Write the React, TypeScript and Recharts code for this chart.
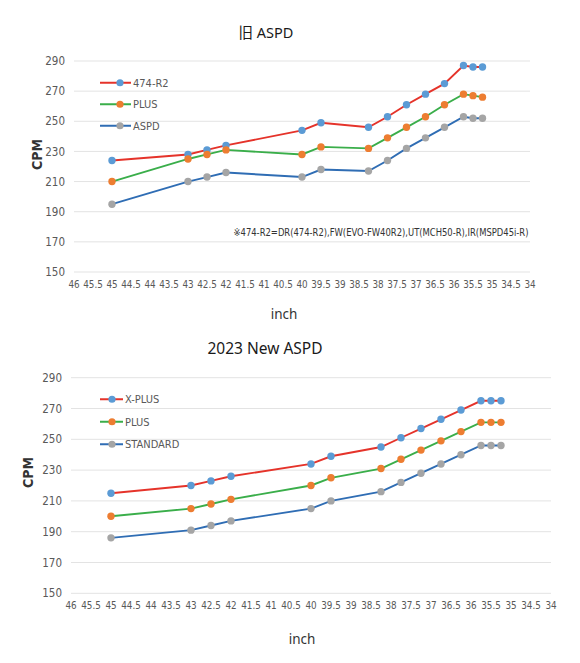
import { LineChart, Line, XAxis, YAxis, CartesianGrid, Legend } from 'recharts';

const inches = [45, 43, 42.5, 42, 40, 39.5, 38.25, 37.75, 37.25, 36.75, 36.25, 35.75, 35.5, 35.25];

// 旧 ASPD
const oldR2 = [224, 228, 231, 234, 244, 249, 246, 253, 261, 268, 275, 287, 286, 286];
const oldPlus = [210, 225, 228, 231, 228, 233, 232, 239, 246, 253, 261, 268, 267, 266];
const oldAspd = [195, 210, 213, 216, 213, 218, 217, 224, 232, 239, 246, 253, 252, 252];

// 2023 New ASPD
const newXPlus = [215, 220, 223, 226, 234, 239, 245, 251, 257, 263, 269, 275, 275, 275];
const newPlus = [200, 205, 208, 211, 220, 225, 231, 237, 243, 249, 255, 261, 261, 261];
const newStandard = [186, 191, 194, 197, 205, 210, 216, 222, 228, 234, 240, 246, 246, 246];

const xTicks = [46, 45.5, 45, 44.5, 44, 43.5, 43, 42.5, 42, 41.5, 41, 40.5, 40, 39.5, 39, 38.5, 38, 37.5, 37, 36.5, 36, 35.5, 35, 34.5, 34];
const yTicks = [150, 170, 190, 210, 230, 250, 270, 290];

const NARROW = "'Liberation Sans Narrow', 'DejaVu Sans Condensed', sans-serif";
const SANS = "'Noto Sans', 'Noto Sans CJK JP', sans-serif";
const TICK = '#595959';

const RED = '#e5332a';
const GREEN = '#3aae4a';
const BLUE = '#2f6db4';
const M_BLUE = '#5b9bd5';
const M_ORANGE = '#ed7d31';
const M_GRAY = '#a5a5a5';

type Series = { key: string; name: string; values: number[]; line: string; marker: string };

const oldSeries: Series[] = [
    { key: 'r2', name: '474-R2', values: oldR2, line: RED, marker: M_BLUE },
    { key: 'plus', name: 'PLUS', values: oldPlus, line: GREEN, marker: M_ORANGE },
    { key: 'aspd', name: 'ASPD', values: oldAspd, line: BLUE, marker: M_GRAY },
];

const newSeries: Series[] = [
    { key: 'xplus', name: 'X-PLUS', values: newXPlus, line: RED, marker: M_BLUE },
    { key: 'plus', name: 'PLUS', values: newPlus, line: GREEN, marker: M_ORANGE },
    { key: 'std', name: 'STANDARD', values: newStandard, line: BLUE, marker: M_GRAY },
];

function buildRows(series: Series[]) {
    return inches.map((x, i) => {
        const row: Record<string, number> = { x };
        series.forEach(s => { row[s.key] = s.values[i]; });
        return row;
    });
}

interface PanelProps {
    top: number;
    height: number;
    title: string;
    titleY: number;
    titleX: number;
    titleSize: number;
    series: Series[];
    yAxisWidth: number;
    marginTop: number;
    marginRight: number;
    xAxisHeight: number;
    inchOffset: number;
    inchDx: number;
    cpmDx: number;
    cpmDy: number;
    legend: { left: number; top: number; lineLen: number; markerX: number; textX: number; gap: number };
    note?: string;
}

function SeriesLegend({ series, lineLen, markerX, textX, gap }: { series: Series[]; lineLen: number; markerX: number; textX: number; gap: number }) {
    return (
        <svg width={120} height={gap * series.length} style={{ display: 'block' }}>
            {series.map((s, i) => {
                const y = gap / 2 + i * gap;
                return (
                    <g key={s.key}>
                        <line x1={0} x2={lineLen} y1={y} y2={y} stroke={s.line} strokeWidth={2} />
                        <circle cx={markerX} cy={y} r={3.6} fill={s.marker} />
                        <text x={textX} y={y + 3.8} fontSize={11} fill={TICK} fontFamily={NARROW}>{s.name}</text>
                    </g>
                );
            })}
        </svg>
    );
}

function Panel(p: PanelProps) {
    const rows = buildRows(p.series);
    return (
        <div style={{ position: 'absolute', left: 0, top: p.top, width: 580, height: p.height }}>
            <div style={{ position: 'absolute', left: 0, width: 580, top: p.titleY - p.top - p.titleSize * 0.7, textAlign: 'center', fontFamily: SANS, fontSize: p.titleSize, color: '#1a1a1a', lineHeight: `${p.titleSize * 1.4}px` }}>
                <span style={{ position: 'relative', left: p.titleX - 290 }}>{p.title}</span>
            </div>
            <LineChart width={580} height={p.height} data={rows} margin={{ top: p.marginTop, right: p.marginRight, left: 0, bottom: 0 }}>
                <CartesianGrid vertical={false} stroke="#e3e3e3" />
                <XAxis
                    dataKey="x"
                    type="number"
                    domain={[34, 46]}
                    reversed
                    ticks={xTicks}
                    interval={0}
                    axisLine={false}
                    tickLine={false}
                    tickSize={0}
                    tickMargin={9}
                    height={p.xAxisHeight}
                    tick={{ fill: TICK, fontSize: 9.8, fontFamily: NARROW }}
                    label={{ value: 'inch', position: 'insideBottom', offset: p.inchOffset, dx: p.inchDx, fill: '#333', fontSize: 13.5, fontFamily: SANS }}
                />
                <YAxis
                    type="number"
                    domain={[150, 290]}
                    ticks={yTicks}
                    interval={0}
                    width={p.yAxisWidth}
                    axisLine={false}
                    tickLine={false}
                    tickSize={0}
                    tickMargin={9}
                    tick={{ fill: TICK, fontSize: 11.5, fontFamily: NARROW }}
                    label={{ value: 'CPM', angle: -90, position: 'center', dx: p.cpmDx, dy: p.cpmDy, fill: '#333', fontSize: 14, fontWeight: 'bold', fontFamily: NARROW }}
                />
                <Legend
                    layout="horizontal"
                    verticalAlign="middle"
                    align="center"
                    wrapperStyle={{ left: p.legend.left, top: p.legend.top, width: 120 }}
                    content={() => <SeriesLegend series={p.series} lineLen={p.legend.lineLen} markerX={p.legend.markerX} textX={p.legend.textX} gap={p.legend.gap} />}
                />
                {p.series.map(s => (
                    <Line
                        key={s.key}
                        dataKey={s.key}
                        name={s.name}
                        type="linear"
                        stroke={s.line}
                        strokeWidth={1.9}
                        dot={{ r: 3.7, fill: s.marker, stroke: s.marker, strokeWidth: 0 }}
                        activeDot={false}
                        isAnimationActive={false}
                    />
                ))}
            </LineChart>
            {p.note && (
                <svg style={{ position: 'absolute', left: 0, top: 0, pointerEvents: 'none' }} width={580} height={p.height}>
                    <text x={233.5} y={236} fontSize={10.5} fill="#333" fontFamily={NARROW} textLength={295} lengthAdjust="spacingAndGlyphs">{p.note}</text>
                </svg>
            )}
        </div>
    );
}

export default function App() {
    return (
        <div style={{ position: 'absolute', left: 0, top: 0, width: 580, height: 663, background: '#fff', overflow: 'hidden' }}>
            <Panel
                top={0}
                height={330}
                title="旧 ASPD"
                titleX={266}
                titleY={32}
                titleSize={14.5}
                series={oldSeries}
                yAxisWidth={74}
                marginTop={61}
                marginRight={50}
                xAxisHeight={58}
                inchOffset={11}
                inchDx={-18}
                cpmDx={0}
                cpmDy={-12}
                legend={{ left: 100, top: 71.5, lineLen: 31, markerX: 20, textX: 33, gap: 21.5 }}
                note="※474-R2=DR(474-R2),FW(EVO-FW40R2),UT(MCH50-R),IR(MSPD45i-R)"
            />
            <Panel
                top={330}
                height={333}
                title="2023 New ASPD"
                titleX={265}
                titleY={349}
                titleSize={15.5}
                series={newSeries}
                yAxisWidth={71}
                marginTop={47.7}
                marginRight={29}
                xAxisHeight={69.7}
                inchOffset={19}
                inchDx={-9}
                cpmDx={-7}
                cpmDy={-13}
                legend={{ left: 100, top: 58, lineLen: 23, markerX: 12, textX: 25, gap: 22.5 }}
            />
        </div>
    );
}
